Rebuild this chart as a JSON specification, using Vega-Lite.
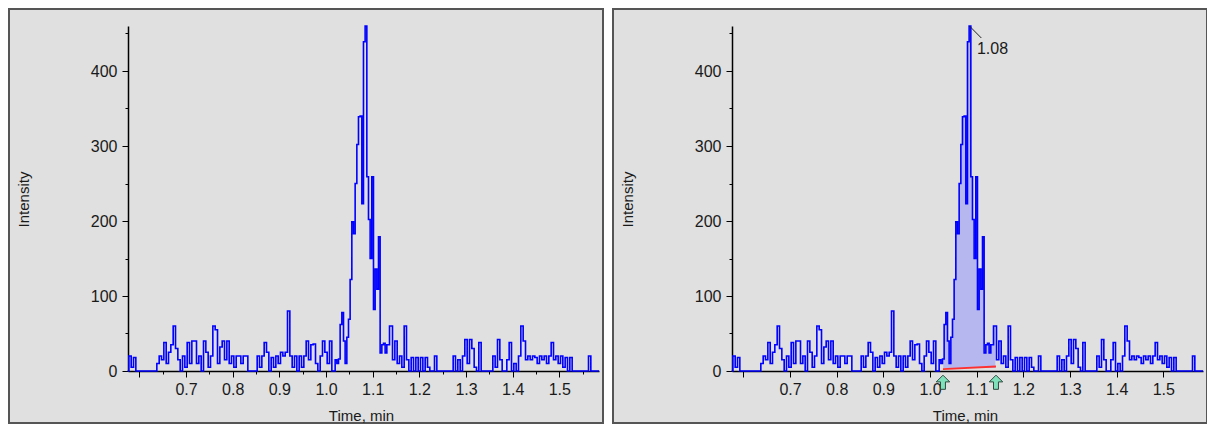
{
  "$schema": "https://vega.github.io/schema/vega-lite/v6.json",
  "background": "white",
  "padding": {"left": 8, "top": 8, "right": 3, "bottom": 5},
  "datasets": {
    "trace": [
      {"time":0.575,"intensity":0},{"time":0.58,"intensity":20},{"time":0.585,"intensity":5},{"time":0.59,"intensity":18},{"time":0.595,"intensity":0},{"time":0.6,"intensity":0},{"time":0.605,"intensity":0},{"time":0.61,"intensity":0},{"time":0.615,"intensity":0},{"time":0.62,"intensity":0},{"time":0.625,"intensity":0},{"time":0.63,"intensity":0},{"time":0.635,"intensity":0},{"time":0.64,"intensity":10},{"time":0.645,"intensity":20},{"time":0.65,"intensity":15},{"time":0.655,"intensity":38},{"time":0.66,"intensity":10},{"time":0.665,"intensity":25},{"time":0.67,"intensity":35},{"time":0.675,"intensity":60},{"time":0.68,"intensity":30},{"time":0.685,"intensity":15},{"time":0.69,"intensity":0},{"time":0.695,"intensity":20},{"time":0.7,"intensity":5},{"time":0.705,"intensity":38},{"time":0.71,"intensity":10},{"time":0.715,"intensity":40},{"time":0.72,"intensity":40},{"time":0.725,"intensity":10},{"time":0.73,"intensity":20},{"time":0.735,"intensity":0},{"time":0.74,"intensity":40},{"time":0.745,"intensity":25},{"time":0.75,"intensity":5},{"time":0.755,"intensity":20},{"time":0.76,"intensity":60},{"time":0.765,"intensity":55},{"time":0.77,"intensity":10},{"time":0.775,"intensity":32},{"time":0.78,"intensity":40},{"time":0.785,"intensity":15},{"time":0.79,"intensity":40},{"time":0.795,"intensity":10},{"time":0.8,"intensity":20},{"time":0.805,"intensity":5},{"time":0.81,"intensity":20},{"time":0.815,"intensity":20},{"time":0.82,"intensity":10},{"time":0.825,"intensity":20},{"time":0.83,"intensity":20},{"time":0.835,"intensity":0},{"time":0.84,"intensity":0},{"time":0.845,"intensity":0},{"time":0.85,"intensity":0},{"time":0.855,"intensity":20},{"time":0.86,"intensity":5},{"time":0.865,"intensity":20},{"time":0.87,"intensity":38},{"time":0.875,"intensity":25},{"time":0.88,"intensity":0},{"time":0.885,"intensity":18},{"time":0.89,"intensity":5},{"time":0.895,"intensity":20},{"time":0.9,"intensity":10},{"time":0.905,"intensity":25},{"time":0.91,"intensity":20},{"time":0.915,"intensity":25},{"time":0.92,"intensity":80},{"time":0.925,"intensity":20},{"time":0.93,"intensity":5},{"time":0.935,"intensity":20},{"time":0.94,"intensity":0},{"time":0.945,"intensity":20},
      {"time":0.95,"intensity":5},{"time":0.955,"intensity":20},{"time":0.96,"intensity":40},{"time":0.965,"intensity":15},{"time":0.97,"intensity":35},{"time":0.975,"intensity":36},{"time":0.98,"intensity":10},{"time":0.985,"intensity":0},{"time":0.99,"intensity":20},{"time":0.995,"intensity":40},{"time":1.0,"intensity":25},{"time":1.005,"intensity":10},{"time":1.01,"intensity":40},{"time":1.015,"intensity":0},
      {"time":1.0178,"intensity":0},{"time":1.0214,"intensity":15},{"time":1.0251,"intensity":10},{"time":1.0285,"intensity":16},{"time":1.0321,"intensity":62},{"time":1.0358,"intensity":78},{"time":1.0392,"intensity":40},{"time":1.0428,"intensity":10},{"time":1.0465,"intensity":45},{"time":1.0499,"intensity":69},{"time":1.0535,"intensity":122},{"time":1.0572,"intensity":199},{"time":1.0606,"intensity":183},{"time":1.0643,"intensity":250},{"time":1.0679,"intensity":302},{"time":1.0713,"intensity":339},{"time":1.075,"intensity":340},{"time":1.0786,"intensity":223},{"time":1.082,"intensity":439},{"time":1.0857,"intensity":460},{"time":1.0893,"intensity":259},{"time":1.0928,"intensity":202},{"time":1.0964,"intensity":150},{"time":1.1,"intensity":259},{"time":1.1035,"intensity":82},{"time":1.1071,"intensity":136},{"time":1.1108,"intensity":109},{"time":1.1142,"intensity":179},{"time":1.1178,"intensity":24},{"time":1.1215,"intensity":35},{"time":1.1249,"intensity":37},{"time":1.1285,"intensity":24},{"time":1.1322,"intensity":35},
      {"time":1.14,"intensity":60},{"time":1.145,"intensity":15},{"time":1.15,"intensity":40},{"time":1.155,"intensity":10},{"time":1.16,"intensity":20},{"time":1.165,"intensity":5},{"time":1.17,"intensity":60},{"time":1.175,"intensity":15},{"time":1.18,"intensity":0},{"time":1.185,"intensity":18},{"time":1.19,"intensity":0},{"time":1.195,"intensity":18},{"time":1.2,"intensity":0},{"time":1.205,"intensity":18},{"time":1.21,"intensity":0},{"time":1.215,"intensity":18},{"time":1.22,"intensity":5},{"time":1.225,"intensity":0},{"time":1.23,"intensity":0},{"time":1.235,"intensity":20},{"time":1.24,"intensity":0},{"time":1.245,"intensity":0},{"time":1.25,"intensity":0},{"time":1.255,"intensity":0},{"time":1.26,"intensity":0},{"time":1.265,"intensity":0},{"time":1.27,"intensity":0},{"time":1.275,"intensity":20},{"time":1.28,"intensity":0},{"time":1.285,"intensity":15},{"time":1.29,"intensity":0},{"time":1.295,"intensity":20},{"time":1.3,"intensity":42},{"time":1.305,"intensity":10},{"time":1.31,"intensity":42},{"time":1.315,"intensity":30},{"time":1.32,"intensity":5},{"time":1.325,"intensity":0},{"time":1.33,"intensity":38},{"time":1.335,"intensity":0},{"time":1.34,"intensity":0},{"time":1.345,"intensity":0},{"time":1.35,"intensity":0},{"time":1.355,"intensity":0},{"time":1.36,"intensity":20},{"time":1.365,"intensity":5},{"time":1.37,"intensity":42},{"time":1.375,"intensity":15},{"time":1.38,"intensity":0},{"time":1.385,"intensity":0},{"time":1.39,"intensity":15},{"time":1.395,"intensity":38},{"time":1.4,"intensity":0},{"time":1.405,"intensity":10},{"time":1.41,"intensity":0},{"time":1.415,"intensity":20},{"time":1.42,"intensity":60},{"time":1.425,"intensity":40},{"time":1.43,"intensity":15},{"time":1.435,"intensity":20},{"time":1.44,"intensity":15},{"time":1.445,"intensity":20},{"time":1.45,"intensity":18},{"time":1.455,"intensity":10},{"time":1.46,"intensity":20},{"time":1.465,"intensity":15},{"time":1.47,"intensity":20},{"time":1.475,"intensity":10},{"time":1.48,"intensity":20},{"time":1.485,"intensity":38},{"time":1.49,"intensity":15},{"time":1.495,"intensity":20},{"time":1.5,"intensity":10},{"time":1.505,"intensity":20},{"time":1.51,"intensity":5},{"time":1.515,"intensity":18},{"time":1.52,"intensity":0},{"time":1.525,"intensity":18},{"time":1.53,"intensity":0},{"time":1.535,"intensity":0},{"time":1.54,"intensity":0},{"time":1.545,"intensity":0},{"time":1.55,"intensity":0},{"time":1.555,"intensity":0},{"time":1.56,"intensity":0},{"time":1.565,"intensity":20},{"time":1.57,"intensity":0},{"time":1.575,"intensity":0},{"time":1.58,"intensity":0},{"time":1.585,"intensity":0}
    ]
  },
  "hconcat": [
    {
      "width": 594,
      "height": 414,
      "layer": [
        {
          "data": {"name": "trace"},
          "mark": {"type": "line", "color": "#0000ff", "strokeWidth": 1.6, "interpolate": "step", "clip": false},
          "encoding": {
            "x": {"field": "time", "type": "quantitative",
              "scale": {"domain": [0.5757, 1.585], "range": [119, 590], "zero": false, "nice": false},
              "axis": {"title": "Time, min", "offset": -52, "values": [0.6,0.65,0.7,0.75,0.8,0.85,0.9,0.95,1.0,1.05,1.1,1.15,1.2,1.25,1.3,1.35,1.4,1.45,1.5,1.55],
                "format": ".1f", "labelExpr": "round(datum.value*20) % 2 === 0 && datum.value > 0.65 ? datum.label : ''",
                "tickSize": {"condition": {"test": "round(datum.value*20) % 2 === 0", "value": 6}, "value": 3},
                "titleX": 352, "titleY": 49, "titleBaseline": "alphabetic", "titleAlign": "center", "labelPadding": 4}},
            "y": {"field": "intensity", "type": "quantitative",
              "scale": {"domain": [0, 460], "range": [362, 17], "zero": false, "nice": false},
              "axis": {"title": "Intensity", "offset": -119, "values": [0,50,100,150,200,250,300,350,400,450],
                "labelExpr": "datum.value % 100 === 0 ? datum.label : ''",
                "tickSize": {"condition": {"test": "datum.value % 100 === 0", "value": 6}, "value": 3},
                "titleX": -105, "titleY": 190, "titleBaseline": "middle", "titleAlign": "center", "labelPadding": 5}}
          }
        }
      ]
    },
    {
      "width": 594,
      "height": 414,
      "layer": [
        {
          "data": {"name": "trace"},
          "transform": [{"filter": "datum.time >= 1.027 && datum.time <= 1.142"}],
          "mark": {"type": "area", "color": "#b2b4ee", "opacity": 0.95, "interpolate": "step", "clip": false},
          "encoding": {
            "x": {"field": "time", "type": "quantitative"},
            "y": {"field": "intensity", "type": "quantitative"},
            "y2": {"datum": 4}
          }
        },
        {
          "data": {"name": "trace"},
          "mark": {"type": "line", "color": "#0000ff", "strokeWidth": 1.6, "interpolate": "step", "clip": false},
          "encoding": {
            "x": {"field": "time", "type": "quantitative",
              "scale": {"domain": [0.5757, 1.585], "range": [119, 590], "zero": false, "nice": false},
              "axis": {"title": "Time, min", "offset": -52, "values": [0.6,0.65,0.7,0.75,0.8,0.85,0.9,0.95,1.0,1.05,1.1,1.15,1.2,1.25,1.3,1.35,1.4,1.45,1.5,1.55],
                "format": ".1f", "labelExpr": "round(datum.value*20) % 2 === 0 && datum.value > 0.65 ? datum.label : ''",
                "tickSize": {"condition": {"test": "round(datum.value*20) % 2 === 0", "value": 6}, "value": 3},
                "titleX": 352, "titleY": 49, "titleBaseline": "alphabetic", "titleAlign": "center", "labelPadding": 4}},
            "y": {"field": "intensity", "type": "quantitative",
              "scale": {"domain": [0, 460], "range": [362, 17], "zero": false, "nice": false},
              "axis": {"title": "Intensity", "offset": -119, "values": [0,50,100,150,200,250,300,350,400,450],
                "labelExpr": "datum.value % 100 === 0 ? datum.label : ''",
                "tickSize": {"condition": {"test": "datum.value % 100 === 0", "value": 6}, "value": 3},
                "titleX": -105, "titleY": 190, "titleBaseline": "middle", "titleAlign": "center", "labelPadding": 5}}
          }
        },
        {
          "data": {"values": [{"time": 1.0278, "intensity": 2.5}, {"time": 1.1414, "intensity": 6}]},
          "mark": {"type": "line", "color": "#ff3030", "strokeWidth": 2, "clip": false},
          "encoding": {
            "x": {"field": "time", "type": "quantitative"},
            "y": {"field": "intensity", "type": "quantitative"}
          }
        },
        {
          "data": {"values": [{"time": 1.0278, "intensity": -15}, {"time": 1.1414, "intensity": -15}]},
          "mark": {"type": "point", "shape": "M0,-1L0.95,-0.05L0.35,-0.05L0.35,1L-0.35,1L-0.35,-0.05L-0.95,-0.05Z", "size": 200, "filled": true, "fill": "#7fe0bc", "stroke": "#2e4a3e", "strokeWidth": 1, "opacity": 1, "clip": false},
          "encoding": {
            "x": {"field": "time", "type": "quantitative"},
            "y": {"field": "intensity", "type": "quantitative"}
          }
        },
        {
          "data": {"values": [{"time": 1.0845, "intensity": 460}, {"time": 1.11, "intensity": 444}]},
          "mark": {"type": "line", "color": "#222222", "strokeWidth": 1, "clip": false},
          "encoding": {
            "x": {"field": "time", "type": "quantitative"},
            "y": {"field": "intensity", "type": "quantitative"}
          }
        },
        {
          "data": {"values": [{"time": 1.1005, "intensity": 429, "label": "1.08"}]},
          "mark": {"type": "text", "align": "left", "baseline": "middle", "font": "Liberation Sans", "fontSize": 16, "color": "#1a1a1a", "clip": false},
          "encoding": {
            "x": {"field": "time", "type": "quantitative"},
            "y": {"field": "intensity", "type": "quantitative"},
            "text": {"field": "label"}
          }
        }
      ]
    }
  ],
  "config": {
    "concat": {"spacing": 8},
    "view": {"fill": "#e0e0e0", "stroke": "#555555", "strokeWidth": 2},
    "axis": {
      "grid": false,
      "domainColor": "#000000",
      "domainWidth": 1.5,
      "tickColor": "#000000",
      "tickWidth": 1,
      "labelFont": "Liberation Sans",
      "labelFontSize": 16,
      "labelColor": "#1a1a1a",
      "labelOverlap": false,
      "labelFlush": false,
      "titleFont": "Liberation Sans",
      "titleFontSize": 15,
      "titleFontWeight": "normal",
      "titleColor": "#1a1a1a"
    }
  }
}
